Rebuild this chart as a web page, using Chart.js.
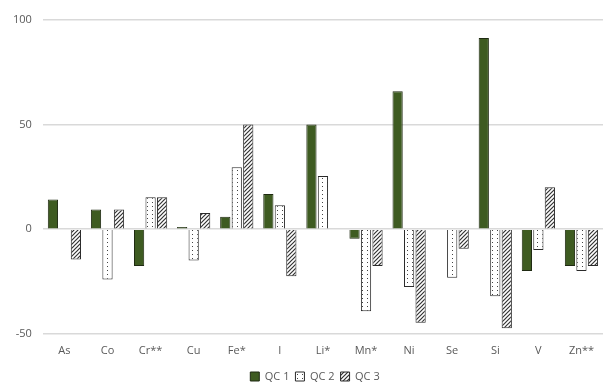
<!DOCTYPE html>
<html>
<head>
<meta charset="utf-8">
<script src="https://cdn.jsdelivr.net/npm/chart.js@4/dist/chart.umd.min.js"></script>
<style>
  html, body { margin: 0; padding: 0; background: #ffffff; }
  #wrap { width: 603px; height: 383px; position: relative; overflow: hidden; }
</style>
</head>
<body>
<div id="wrap"><canvas id="c" width="603" height="383"></canvas></div>
<script>
// Elements on the x axis
const elements = ['As', 'Co', 'Cr**', 'Cu', 'Fe*', 'I', 'Li*', 'Mn*', 'Ni', 'Se', 'Si', 'V', 'Zn**'];

// Deviation (%) for each QC sample
const qc1 = [14.2, 9.4, -17.6, 1.1, 5.9, 16.8, 50, -4.6, 66, 0.3, 91.4, -20, -17.6];
const qc2 = [0, -24.1, 15.3, -15, 29.6, 11.4, 25.4, -39.2, -27.6, -23.2, -32.1, -10, -20];
const qc3 = [-14.5, 9.4, 15.3, 7.8, 50, -22.5, 0, -17.6, -44.7, -9.4, -47.3, 20.1, -17.6];

const seriesNames = ['QC 1', 'QC 2', 'QC 3'];
const yTicks = [-50, 0, 50, 100];

// Fill patterns: dotted and diagonal hatch
function dotPattern() {
  const p = document.createElement('canvas');
  p.width = 5; p.height = 4;
  const g = p.getContext('2d');
  g.fillStyle = '#ffffff';
  g.fillRect(0, 0, 5, 4);
  g.fillStyle = '#444444';
  g.fillRect(2, 2, 1, 1);
  return g.createPattern(p, 'repeat');
}
function hatchPattern() {
  const s = 4;
  const p = document.createElement('canvas');
  p.width = s; p.height = s;
  const g = p.getContext('2d');
  g.fillStyle = '#ffffff';
  g.fillRect(0, 0, s, s);
  g.strokeStyle = '#333333';
  g.lineWidth = 1.2;
  g.beginPath();
  g.moveTo(0, s); g.lineTo(s, 0);
  g.moveTo(-1, 1); g.lineTo(1, -1);
  g.moveTo(s - 1, s + 1); g.lineTo(s + 1, s - 1);
  g.stroke();
  return g.createPattern(p, 'repeat');
}

// Moves the legend a little lower and to the right
const legendShift = {
  id: 'legendShift',
  afterLayout(chart) {
    const lg = chart.legend;
    if (lg) { lg.top += 6; lg.bottom += 6; lg.left += 11; lg.right += 11; }
  }
};

const font = { family: "'Open Sans', 'Liberation Sans', sans-serif", size: 11 };

new Chart(document.getElementById('c'), {
  type: 'bar',
  data: {
    labels: elements,
    datasets: [
      { label: seriesNames[0], data: qc1, backgroundColor: '#3e5b21', borderColor: '#1f2a12', borderWidth: 1 },
      { label: seriesNames[1], data: qc2, backgroundColor: dotPattern(), borderColor: '#2a2a2a', borderWidth: 1 },
      { label: seriesNames[2], data: qc3, backgroundColor: hatchPattern(), borderColor: '#2a2a2a', borderWidth: 1 }
    ]
  },
  plugins: [legendShift],
  options: {
    responsive: false,
    animation: false,
    devicePixelRatio: 1,
    layout: { padding: { top: 20, right: -3, left: 2, bottom: -3 } },
    datasets: { bar: { categoryPercentage: 0.8, barPercentage: 0.89 } },
    plugins: {
      legend: {
        position: 'bottom',
        labels: {
          boxWidth: 9, boxHeight: 9, padding: 6,
          color: '#595959', font: font
        }
      },
      tooltip: { enabled: false }
    },
    scales: {
      x: {
        grid: { display: false },
        border: { display: false },
        ticks: { color: '#595959', font: font, padding: 2 }
      },
      y: {
        min: -50, max: 100,
        afterBuildTicks: (scale) => { scale.ticks = yTicks.map(v => ({ value: v })); },
        grid: { color: '#d9d9d9', lineWidth: 1.5, drawTicks: false },
        border: { display: false },
        ticks: { color: '#595959', font: font, padding: 11 }
      }
    }
  }
});
</script>
</body>
</html>
